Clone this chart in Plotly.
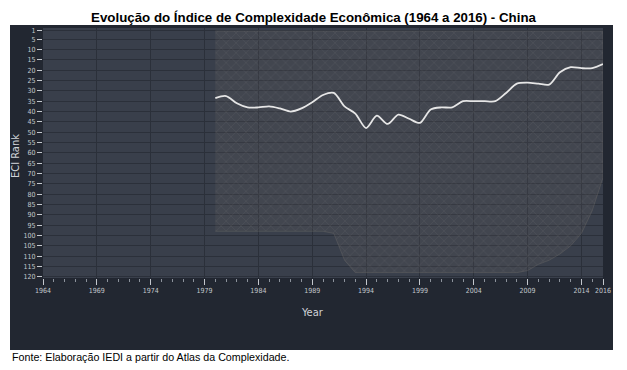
import plotly.graph_objects as go

# ---------------- data ----------------
years = list(range(1980, 2017))
china_rank = [33.5, 32.5, 36, 38, 38, 37.5, 38.5, 40, 38.5, 35.5,
              32, 31, 37.5, 41, 48, 42, 46, 41.5, 43.5, 45.5,
              39, 38, 38, 35, 35, 35, 35, 31, 26.5, 26,
              26.5, 27, 21, 18.5, 19, 19, 17]
# envelope of the grey "all other countries" mesh
field_top = [1] * len(years)
field_bottom = [98, 98, 98, 98, 98, 98, 98, 98, 98, 98,
                98, 99, 112, 118, 118, 118, 118, 118, 118, 118,
                118, 118, 118, 118, 118, 118, 118, 118, 118, 117,
                114, 112, 109, 105, 99, 88, 72]
x_ticks = [1964, 1969, 1974, 1979, 1984, 1989, 1994, 1999, 2004, 2009, 2014, 2016]
y_ticks = [1] + list(range(5, 121, 5))

title_text = "Evolução do Índice de Complexidade Econômica (1964 a 2016) - China"
source_text = "Fonte: Elaboração IEDI a partir do Atlas da Complexidade."

# ---------------- styles ----------------
PANEL = "#222731"
PLOTBG = "#393f4b"
GRID = "#2b303a"
TICKC = "#c3c7cd"
COND = "DejaVu Sans Condensed, Liberation Sans Narrow, Roboto Condensed, Arial Narrow, sans-serif"

W, H = 627, 370
L, R, T, B = 43, 24, 28, 92
pw, ph = W - L - R, H - T - B


def px_x(px):
    return (px - L) / pw


def px_y(py):
    return (H - B - py) / ph


fig = go.Figure()

fig.add_trace(go.Scatter(
    x=years + years[::-1],
    y=field_top + field_bottom[::-1],
    fill="toself",
    mode="lines",
    line=dict(width=0.6, color="rgba(120,118,112,0.5)"),
    fillcolor="rgba(112,108,102,0.22)",
    fillpattern=dict(shape="x", fgcolor="rgba(145,140,130,0.5)",
                     bgcolor="rgba(105,102,98,0.18)", size=7, solidity=0.12),
    hoverinfo="skip",
    showlegend=False,
))

fig.add_trace(go.Scatter(
    x=years, y=china_rank, mode="lines",
    line=dict(color="#e6e6e6", width=1.8, shape="spline", smoothing=0.8),
    showlegend=False,
))

fig.update_layout(
    width=W, height=H, autosize=False,
    paper_bgcolor="white",
    plot_bgcolor="rgba(0,0,0,0)",
    margin=dict(l=L, r=R, t=T, b=B, pad=0),
    showlegend=False,
    title=dict(text="<b>" + title_text + "</b>", x=0.5, xanchor="center",
               y=1 - 17 / H, yanchor="middle", yref="container",
               font=dict(family="Liberation Sans, Arial, sans-serif", size=13.3, color="black")),
    shapes=[
        dict(type="rect", xref="paper", yref="paper", layer="below",
             x0=px_x(10), x1=px_x(613), y0=px_y(350), y1=px_y(25),
             fillcolor=PANEL, line=dict(width=0)),
        dict(type="rect", xref="paper", yref="paper", layer="below",
             x0=0, x1=1, y0=0, y1=1,
             fillcolor=PLOTBG, line=dict(width=0)),
    ],
    annotations=[
        dict(text=source_text, xref="paper", yref="paper",
             x=px_x(10), y=px_y(357), xanchor="left", yanchor="middle",
             showarrow=False,
             font=dict(family="Liberation Sans, Arial, sans-serif", size=10.7, color="black")),
        dict(text="Year", xref="paper", yref="paper",
             x=px_x(312), y=px_y(312), xanchor="center", yanchor="middle",
             showarrow=False, font=dict(family=COND, size=11, color="#d0d3d8")),
        dict(text="ECI Rank", xref="paper", yref="paper", textangle=-90,
             x=px_x(15), y=px_y(156), xanchor="center", yanchor="middle",
             showarrow=False, font=dict(family=COND, size=11, color="#d0d3d8")),
    ],
)

fig.update_xaxes(
    range=[1964, 2016], tickmode="array", tickvals=x_ticks,
    ticks="outside", ticklen=6, tickwidth=1, tickcolor=TICKC,
    tickfont=dict(family=COND, size=7, color=TICKC),
    showgrid=True, gridcolor=GRID, gridwidth=1,
    zeroline=False, showline=False,
    minor=dict(tickmode="linear", tick0=1964, dtick=1, ticks="outside",
               ticklen=3, tickcolor="#8c929b", showgrid=False),
)
fig.update_yaxes(
    range=[120.6, -0.45], tickmode="array", tickvals=y_ticks,
    ticks="outside", ticklen=5, tickwidth=1, tickcolor=TICKC,
    tickfont=dict(family=COND, size=7, color=TICKC),
    showgrid=True, gridcolor=GRID, gridwidth=1,
    zeroline=False, showline=False,
)

fig.write_html("out.html", config={"displayModeBar": False},
               post_script="document.body.style.margin='0px';")
